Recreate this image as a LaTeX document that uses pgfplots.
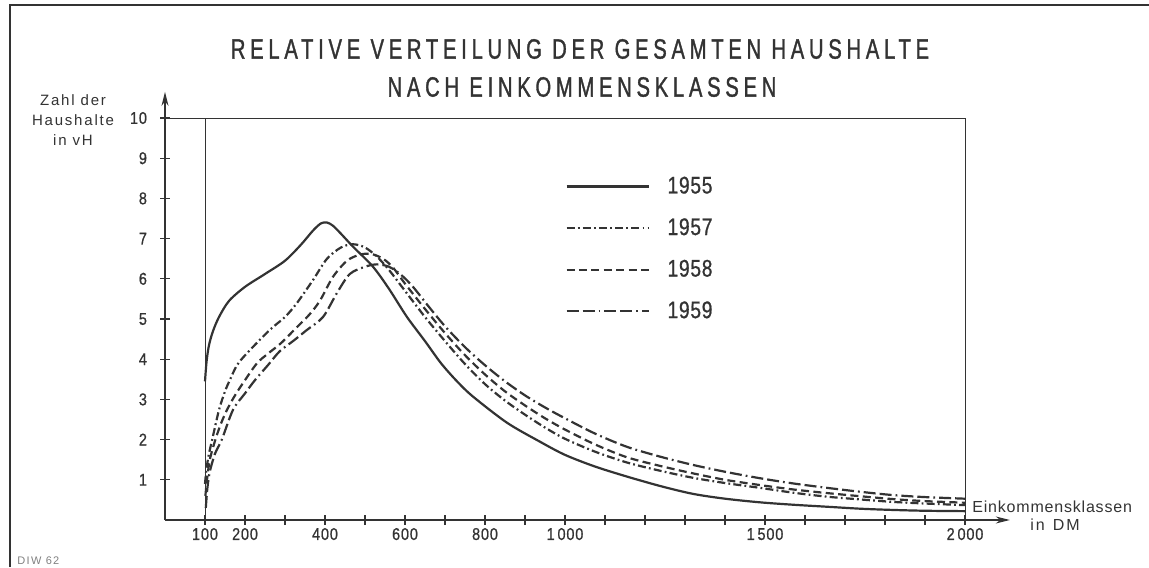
\documentclass[border=0pt]{standalone}
\usepackage{fontspec}
\usepackage{pgfplots}
\pgfplotsset{compat=1.18}
\usetikzlibrary{arrows.meta}
\setmainfont{Liberation Sans}
\newfontfamily\titlef[LetterSpace=17,FakeStretch=0.72,FakeBold=1.2]{Liberation Sans}
\newfontfamily\tickf[LetterSpace=5,FakeStretch=0.85,FakeBold=0.8]{Liberation Sans}
\newfontfamily\legf[LetterSpace=3,FakeStretch=0.8,FakeBold=0.8]{Liberation Sans}
\newfontfamily\labf[LetterSpace=12]{Liberation Sans}
\newfontfamily\labfb[LetterSpace=5]{Liberation Sans}
\definecolor{ink}{HTML}{333333}

\begin{document}
\begin{tikzpicture}
\useasboundingbox (0,0) rectangle (574.5pt,283.5pt);
\begin{scope}[shift={(0pt,283.5pt)},x=0.5pt,y=-0.5pt]
\draw[ink, line width=0.8pt] (10,567) -- (10,5) -- (1149,5);
\node[font=\titlef\fontsize{14}{16}\selectfont, text=ink] at (580,49) {RELATIVE VERTEILUNG DER GESAMTEN HAUSHALTE};
\node[font=\titlef\fontsize{14}{16}\selectfont, text=ink] at (582,87) {NACH EINKOMMENSKLASSEN};
\node[align=center, font=\labf\fontsize{7.5}{10}\selectfont, text=ink] at (73,120) {Zahl der\\Haushalte\\in vH};
\node[font=\labfb\fontsize{8}{9}\selectfont, text=ink, anchor=west, inner sep=0pt] at (972,507) {Einkommensklassen};
\node[font=\labf\fontsize{8}{9}\selectfont, text=ink] at (1055,525) {in\enspace DM};
\node[font=\labf\fontsize{5.5}{6}\selectfont, text=gray, anchor=west, inner sep=0pt] at (17,561) {DIW 62};
\end{scope}
\begin{axis}[
  at={(82.5pt,23.5pt)}, anchor=south west, scale only axis,
  width=422.4pt, height=214.05pt,
  xmin=0, xmax=2112, ymin=0, ymax=10.65,
  axis x line=bottom, axis y line=left,
  axis line style={ink, line width=0.8pt, -{Stealth[length=7pt,width=3.5pt]}},
  xtick={100,200,400,600,800,1000,1500,2000},
  xticklabels={100,200,400,600,800,1\,000,1\,500,2\,000},
  minor xtick={300,500,700,900,1100,1200,1300,1400,1600,1700,1800,1900},
  ytick={1,2,3,4,5,6,7,8,9,10},
  yticklabels={1,2,3,4,5,6,7,8,9,10},
  tick align=center, major tick length=5pt, minor tick length=5pt,
  tick style={ink, line width=0.6pt},
  xticklabel style={font=\tickf\fontsize{8.5}{9}\selectfont, text=ink, yshift=2pt},
  yticklabel style={font=\tickf\fontsize{8.5}{9}\selectfont, text=ink, xshift=-3pt},
  legend style={at={(axis cs:1000,8.55)}, anchor=north west, draw=none, fill=none,
    font=\legf\fontsize{12}{13}\selectfont, text=ink, row sep=10.9pt, inner sep=0pt,
    nodes={inner sep=0pt}},
  legend cell align=left,
  legend image code/.code={\draw[#1] (0pt,0pt) -- (41pt,0pt); \path (50pt,0pt);},
]
\draw[ink, line width=0.5pt] (axis cs:0,10) -- (axis cs:2000,10);
\draw[ink, line width=0.5pt] (axis cs:100,0) -- (axis cs:100,10);
\draw[ink, line width=0.5pt] (axis cs:2000,0) -- (axis cs:2000,10);

\addplot[ink, line width=1.1pt, smooth, tension=0.5] coordinates {
(100,3.45)(104,3.95)(110,4.35)(120,4.7)(135,5.05)(160,5.45)(200,5.8)(250,6.12)(300,6.45)(340,6.85)(370,7.2)(390,7.38)(405,7.4)(420,7.32)(440,7.12)(470,6.8)(520,6.3)(560,5.75)(605,5.05)(650,4.45)(690,3.9)(730,3.45)(770,3.07)(855,2.42)(937,1.95)(1000,1.62)(1075,1.33)(1155,1.08)(1240,0.84)(1320,0.65)(1400,0.53)(1487,0.44)(1570,0.38)(1655,0.33)(1740,0.28)(1820,0.25)(1900,0.23)(2000,0.22)
};
\addlegendentry{1955}
\addplot[ink, line width=1.1pt, smooth, tension=0.5, dash pattern=on 4pt off 1.6pt on 0.9pt off 1.6pt] coordinates {
(100,0.9)(104,1.3)(110,1.65)(118,2.0)(135,2.74)(150,3.2)(162,3.48)(180,3.85)(205,4.15)(262,4.73)(300,5.05)(330,5.4)(370,5.97)(405,6.5)(440,6.78)(470,6.86)(500,6.78)(530,6.55)(560,6.22)(600,5.7)(650,5.05)(700,4.45)(750,3.88)(800,3.38)(850,2.97)(900,2.62)(950,2.3)(1000,2.02)(1075,1.7)(1155,1.43)(1240,1.22)(1320,1.05)(1400,0.92)(1487,0.8)(1570,0.68)(1655,0.58)(1740,0.51)(1820,0.45)(1900,0.41)(2000,0.37)
};
\addlegendentry{1957}
\addplot[ink, line width=1.1pt, smooth, tension=0.5, dash pattern=on 4pt off 2.2pt] coordinates {
(101,0.6)(105,1.0)(112,1.5)(126,2.0)(140,2.4)(155,2.74)(175,3.1)(200,3.48)(230,3.9)(255,4.12)(290,4.4)(330,4.8)(360,5.1)(387,5.45)(420,6.05)(455,6.45)(487,6.6)(515,6.62)(545,6.5)(570,6.28)(600,5.88)(650,5.25)(700,4.65)(750,4.1)(800,3.62)(850,3.2)(900,2.85)(950,2.53)(1000,2.25)(1075,1.88)(1155,1.56)(1240,1.34)(1320,1.16)(1400,1.0)(1487,0.87)(1570,0.76)(1655,0.67)(1740,0.59)(1820,0.52)(1900,0.47)(2000,0.43)
};
\addlegendentry{1958}
\addplot[ink, line width=1.1pt, smooth, tension=0.5, dash pattern=on 6pt off 2pt on 6pt off 2pt on 0.9pt off 2pt] coordinates {
(102,0.3)(106,0.8)(112,1.2)(125,1.65)(142,2.0)(170,2.74)(200,3.15)(225,3.48)(258,3.86)(287,4.2)(320,4.45)(355,4.73)(395,5.05)(430,5.65)(462,6.12)(500,6.3)(530,6.36)(560,6.3)(590,6.1)(620,5.8)(660,5.3)(700,4.82)(750,4.3)(800,3.85)(850,3.45)(900,3.1)(950,2.8)(1000,2.53)(1075,2.15)(1155,1.82)(1240,1.57)(1320,1.37)(1400,1.2)(1487,1.04)(1570,0.91)(1655,0.8)(1740,0.7)(1820,0.62)(1900,0.57)(2000,0.53)
};
\addlegendentry{1959}
\end{axis}
\end{tikzpicture}
\end{document}
